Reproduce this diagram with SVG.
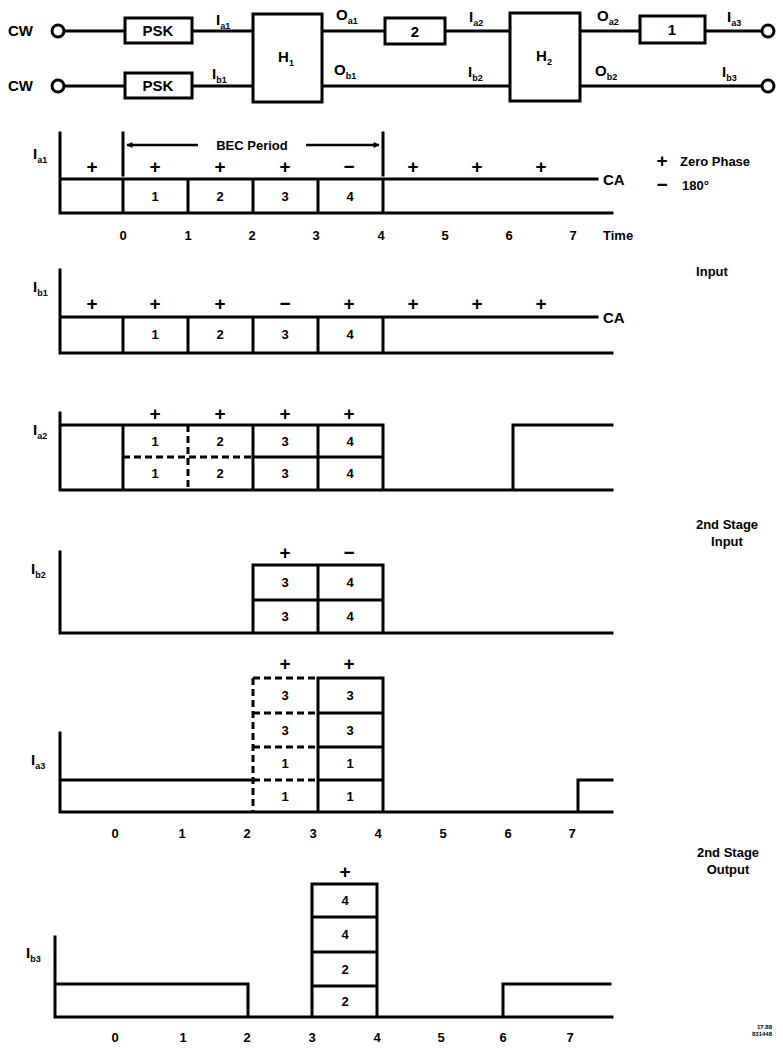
<svg xmlns="http://www.w3.org/2000/svg" width="783" height="1056" viewBox="0 0 783 1056">
<style>
.ln{stroke:#000;stroke-width:3;fill:none;stroke-linecap:square}
.dl{stroke:#000;stroke-width:3;fill:none;stroke-dasharray:7 4}
.bx{stroke:#000;stroke-width:3;fill:#fff}
.t{font-family:"Liberation Sans",Arial,sans-serif;font-weight:bold;font-size:13px;fill:#000}
.b{font-size:15px}
.c{text-anchor:middle}
.s{font-family:"Liberation Sans",Arial,sans-serif;font-weight:bold;font-size:19px;fill:#000;text-anchor:middle}
.n{font-family:"Liberation Sans",Arial,sans-serif;font-weight:bold;font-size:13px;fill:#000;text-anchor:middle}
.sub{font-size:9px}
</style>
<defs>
<marker id="ah" viewBox="0 0 10 10" refX="9" refY="5" markerWidth="9" markerHeight="6" orient="auto-start-reverse" markerUnits="userSpaceOnUse">
<path d="M0,0 L10,5 L0,10 z" fill="#000"/>
</marker>
</defs>
<rect width="783" height="1056" fill="#fff"/>

<!-- Block diagram -->
<g id="connectors">
<line class="ln" x1="64" y1="31" x2="125" y2="31"/>
<line class="ln" x1="192" y1="31" x2="253" y2="31"/>
<line class="ln" x1="322" y1="31" x2="385" y2="31"/>
<line class="ln" x1="445" y1="31" x2="510" y2="31"/>
<line class="ln" x1="580" y1="31" x2="640" y2="31"/>
<line class="ln" x1="705" y1="31" x2="762" y2="31"/>
<line class="ln" x1="64" y1="86" x2="125" y2="86"/>
<line class="ln" x1="192" y1="86" x2="253" y2="86"/>
<line class="ln" x1="322" y1="86" x2="510" y2="86"/>
<line class="ln" x1="580" y1="86" x2="762" y2="86"/>
<text class="t b" x="216" y="25">I<tspan class="sub" dy="4">a1</tspan></text>
<text class="t b" x="212" y="79">I<tspan class="sub" dy="4">b1</tspan></text>
<text class="t b" x="336" y="20">O<tspan class="sub" dy="4">a1</tspan></text>
<text class="t b" x="334" y="75">O<tspan class="sub" dy="4">b1</tspan></text>
<text class="t b" x="469" y="22">I<tspan class="sub" dy="4">a2</tspan></text>
<text class="t b" x="468" y="77">I<tspan class="sub" dy="4">b2</tspan></text>
<text class="t b" x="597" y="21">O<tspan class="sub" dy="4">a2</tspan></text>
<text class="t b" x="595" y="76">O<tspan class="sub" dy="4">b2</tspan></text>
<text class="t b" x="727" y="22">I<tspan class="sub" dy="4">a3</tspan></text>
<text class="t b" x="722" y="77">I<tspan class="sub" dy="4">b3</tspan></text>
</g>
<g id="cw1"><text class="t b" x="8" y="36">CW</text><circle cx="58" cy="31" r="6" class="bx"/></g>
<g id="cw2"><text class="t b" x="8" y="91">CW</text><circle cx="58" cy="86" r="6" class="bx"/></g>
<g id="psk1"><rect class="bx" x="125" y="18" width="67" height="25"/><text class="t b c" x="158" y="36">PSK</text></g>
<g id="psk2"><rect class="bx" x="125" y="73" width="67" height="25"/><text class="t b c" x="158" y="91">PSK</text></g>
<g id="h1"><rect class="bx" x="253" y="14" width="69" height="88"/><text class="t b c" x="286" y="62">H<tspan class="sub" dy="4">1</tspan></text></g>
<g id="d2"><rect class="bx" x="385" y="18" width="60" height="26"/><text class="t b c" x="415" y="37">2</text></g>
<g id="h2"><rect class="bx" x="510" y="13" width="70" height="88"/><text class="t b c" x="544" y="61">H<tspan class="sub" dy="4">2</tspan></text></g>
<g id="d1"><rect class="bx" x="640" y="16" width="65" height="27"/><text class="t b c" x="672" y="35">1</text></g>
<g id="out1"><circle cx="768" cy="31" r="6" class="bx"/></g>
<g id="out2"><circle cx="768" cy="86" r="6" class="bx"/></g>

<!-- Timing 1: Ia1 -->
<g id="t1">
<text class="t b" x="33" y="159">I<tspan class="sub" dy="4">a1</tspan></text>
<path class="ln" d="M60,133 V213 H612 M60,179 H597 M123,179 V213 M188,179 V213 M253,179 V213 M318,179 V213 M383,179 V213"/>
<line class="ln" x1="123" y1="133" x2="123" y2="175"/>
<line class="ln" x1="383" y1="133" x2="383" y2="175"/>
<line stroke="#000" stroke-width="2.5" x1="127" y1="145" x2="198" y2="145" marker-start="url(#ah)"/>
<line stroke="#000" stroke-width="2.5" x1="306" y1="145" x2="379" y2="145" marker-end="url(#ah)"/>
<text class="t c" x="252" y="150" font-size="14">BEC Period</text>
<text class="s" x="92" y="173">+</text><text class="s" x="155" y="173">+</text><text class="s" x="220" y="173">+</text><text class="s" x="285" y="173">+</text><text class="s" x="349" y="173">−</text><text class="s" x="413" y="173">+</text><text class="s" x="477" y="173">+</text><text class="s" x="541" y="173">+</text>
<text class="n" x="155" y="201">1</text><text class="n" x="220" y="201">2</text><text class="n" x="285" y="201">3</text><text class="n" x="350" y="201">4</text>
<text class="t b" x="603" y="185">CA</text>
<text class="s" x="662" y="167">+</text><text class="t" x="680" y="166">Zero Phase</text>
<text class="s" x="662" y="191">−</text><text class="t" x="682" y="190">180°</text>
<text class="n" x="123" y="240">0</text><text class="n" x="188" y="240">1</text><text class="n" x="252" y="240">2</text><text class="n" x="316" y="240">3</text><text class="n" x="381" y="240">4</text><text class="n" x="445" y="240">5</text><text class="n" x="509" y="240">6</text><text class="n" x="573" y="240">7</text>
<text class="t" x="603" y="240">Time</text>
</g>

<!-- Timing 2: Ib1 -->
<g id="t2">
<text class="t b" x="33" y="292">I<tspan class="sub" dy="4">b1</tspan></text>
<path class="ln" d="M60,270 V353 H612 M60,317 H597 M123,317 V353 M188,317 V353 M253,317 V353 M318,317 V353 M383,317 V353"/>
<text class="s" x="92" y="310">+</text><text class="s" x="155" y="310">+</text><text class="s" x="220" y="310">+</text><text class="s" x="285" y="310">−</text><text class="s" x="349" y="310">+</text><text class="s" x="413" y="310">+</text><text class="s" x="477" y="310">+</text><text class="s" x="541" y="310">+</text>
<text class="n" x="155" y="339">1</text><text class="n" x="220" y="339">2</text><text class="n" x="285" y="339">3</text><text class="n" x="350" y="339">4</text>
<text class="t b" x="603" y="323">CA</text>
<text class="t c" x="712" y="276">Input</text>
</g>

<!-- Timing 3: Ia2 -->
<g id="t3">
<text class="t b" x="33" y="435">I<tspan class="sub" dy="4">a2</tspan></text>
<path class="ln" d="M60,413 V490 H612 M60,425 H383 V490 M123,425 V490 M253,425 V490 M318,425 V490 M253,457 H383 M513,490 V425 H612"/>
<path class="dl" d="M188,425 V490 M123,457 H253"/>
<text class="s" x="155" y="420">+</text><text class="s" x="220" y="420">+</text><text class="s" x="285" y="420">+</text><text class="s" x="349" y="420">+</text>
<text class="n" x="155" y="446">1</text><text class="n" x="220" y="446">2</text><text class="n" x="285" y="446">3</text><text class="n" x="350" y="446">4</text>
<text class="n" x="155" y="478">1</text><text class="n" x="220" y="478">2</text><text class="n" x="285" y="478">3</text><text class="n" x="350" y="478">4</text>
</g>

<!-- Timing 4: Ib2 -->
<g id="t4">
<text class="t b" x="31" y="574">I<tspan class="sub" dy="4">b2</tspan></text>
<path class="ln" d="M60,552 V633 H612 M253,633 V565 H383 V633 M318,565 V633 M253,600 H383"/>
<text class="s" x="285" y="559">+</text><text class="s" x="349" y="559">−</text>
<text class="n" x="285" y="587">3</text><text class="n" x="350" y="587">4</text>
<text class="n" x="285" y="621">3</text><text class="n" x="350" y="621">4</text>
<text class="t c" x="727" y="529">2nd Stage</text>
<text class="t c" x="727" y="546">Input</text>
</g>

<!-- Timing 5: Ia3 -->
<g id="t5">
<text class="t b" x="31" y="765">I<tspan class="sub" dy="4">a3</tspan></text>
<path class="ln" d="M60,733 V812 H612 M60,780 H253 M318,678 H383 V812 M318,678 V812 M318,713 H383 M318,747 H383 M318,780 H383 M578,812 V780 H612"/>
<path class="dl" d="M253,678 V812 M253,678 H318 M253,713 H318 M253,747 H318 M253,780 H318"/>
<text class="s" x="285" y="670">+</text><text class="s" x="349" y="670">+</text>
<text class="n" x="285" y="700">3</text><text class="n" x="350" y="700">3</text>
<text class="n" x="285" y="735">3</text><text class="n" x="350" y="735">3</text>
<text class="n" x="285" y="768">1</text><text class="n" x="350" y="768">1</text>
<text class="n" x="285" y="801">1</text><text class="n" x="350" y="801">1</text>
<text class="n" x="115" y="838">0</text><text class="n" x="182" y="838">1</text><text class="n" x="247" y="838">2</text><text class="n" x="313" y="838">3</text><text class="n" x="378" y="838">4</text><text class="n" x="443" y="838">5</text><text class="n" x="508" y="838">6</text><text class="n" x="572" y="838">7</text>
<text class="t c" x="728" y="857">2nd Stage</text>
<text class="t c" x="728" y="874">Output</text>
</g>

<!-- Timing 6: Ib3 -->
<g id="t6">
<text class="t b" x="26" y="958">I<tspan class="sub" dy="4">b3</tspan></text>
<path class="ln" d="M55,937 V1017 H612 M55,984 H248 V1017 M312,1017 V884 H377 V1017 M312,917 H377 M312,952 H377 M312,986 H377 M503,1017 V984 H610"/>
<text class="s" x="345" y="878">+</text>
<text class="n" x="345" y="905">4</text>
<text class="n" x="345" y="939">4</text>
<text class="n" x="345" y="974">2</text>
<text class="n" x="345" y="1006">2</text>
<text class="n" x="115" y="1042">0</text><text class="n" x="183" y="1042">1</text><text class="n" x="247" y="1042">2</text><text class="n" x="312" y="1042">3</text><text class="n" x="377" y="1042">4</text><text class="n" x="441" y="1042">5</text><text class="n" x="503" y="1042">6</text><text class="n" x="570" y="1042">7</text>
</g>

<g id="code">
<text x="772" y="1029" font-family="Liberation Sans, Arial, sans-serif" font-weight="bold" font-size="6" text-anchor="end">17.88</text>
<text x="772" y="1036" font-family="Liberation Sans, Arial, sans-serif" font-weight="bold" font-size="6" text-anchor="end">831448</text>
</g>
</svg>
